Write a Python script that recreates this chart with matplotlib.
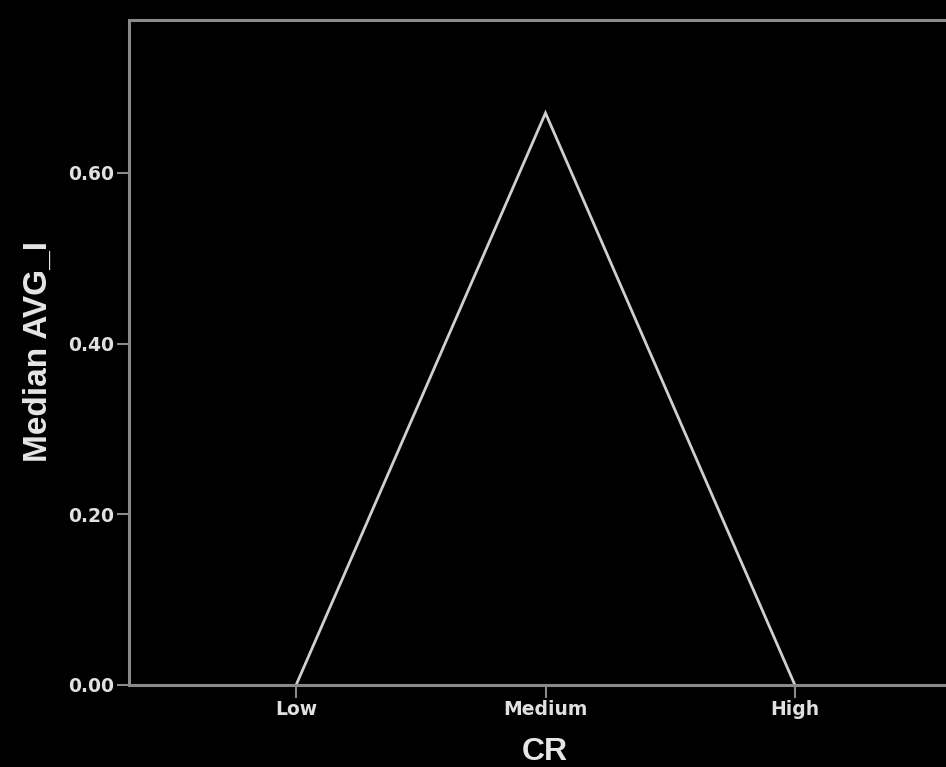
import matplotlib
matplotlib.use("Agg")
import matplotlib.pyplot as plt

categories = ["Low", "Medium", "High"]
median_avg_i = [0.0, 0.67, 0.0]
y_ticks = [0.0, 0.2, 0.4, 0.6]
y_tick_labels = ["0.00", "0.20", "0.40", "0.60"]

fig = plt.figure(figsize=(9.46, 7.67), dpi=100, facecolor="black")
ax = fig.add_axes([129 / 946, 1 - 685 / 767, (962 - 129) / 946, (685 - 20) / 767])
ax.set_facecolor("black")

x = list(range(len(categories)))
ax.plot(x, median_avg_i, color="#d0d0d0", linewidth=2.0, solid_joinstyle="miter")

ax.set_xlim(-0.67, 2.67)
ax.set_ylim(0, 0.779)
ax.set_xticks(x)
ax.set_xticklabels(categories)
ax.set_yticks(y_ticks)
ax.set_yticklabels(y_tick_labels)

for side in ["left", "bottom", "top", "right"]:
    ax.spines[side].set_color("#8a8a8a")
    ax.spines[side].set_linewidth(2.2)

ax.tick_params(axis="both", colors="#8a8a8a", direction="out", length=9, width=1.5,
               labelcolor="#e0e0e0", labelsize=13.5, pad=1.5)
for lab in ax.get_xticklabels() + ax.get_yticklabels():
    lab.set_fontfamily("DejaVu Sans")
    lab.set_fontweight("bold")

ax.set_xlabel("CR", color="#e6e6e6", fontsize=23, fontfamily="Liberation Sans",
              fontweight="bold")
ax.xaxis.set_label_coords(545 / 946, (767 - 752) / 767, transform=fig.transFigure)
ax.xaxis.label.set_verticalalignment("center")
ax.set_ylabel("Median AVG_I", color="#e6e6e6", fontsize=24, fontfamily="Liberation Sans",
              fontweight="bold")
ax.yaxis.set_label_coords(38 / 946, (767 - 351) / 767, transform=fig.transFigure)
ax.yaxis.label.set_verticalalignment("center")

fig.savefig("out.png", dpi=100, facecolor="black")
